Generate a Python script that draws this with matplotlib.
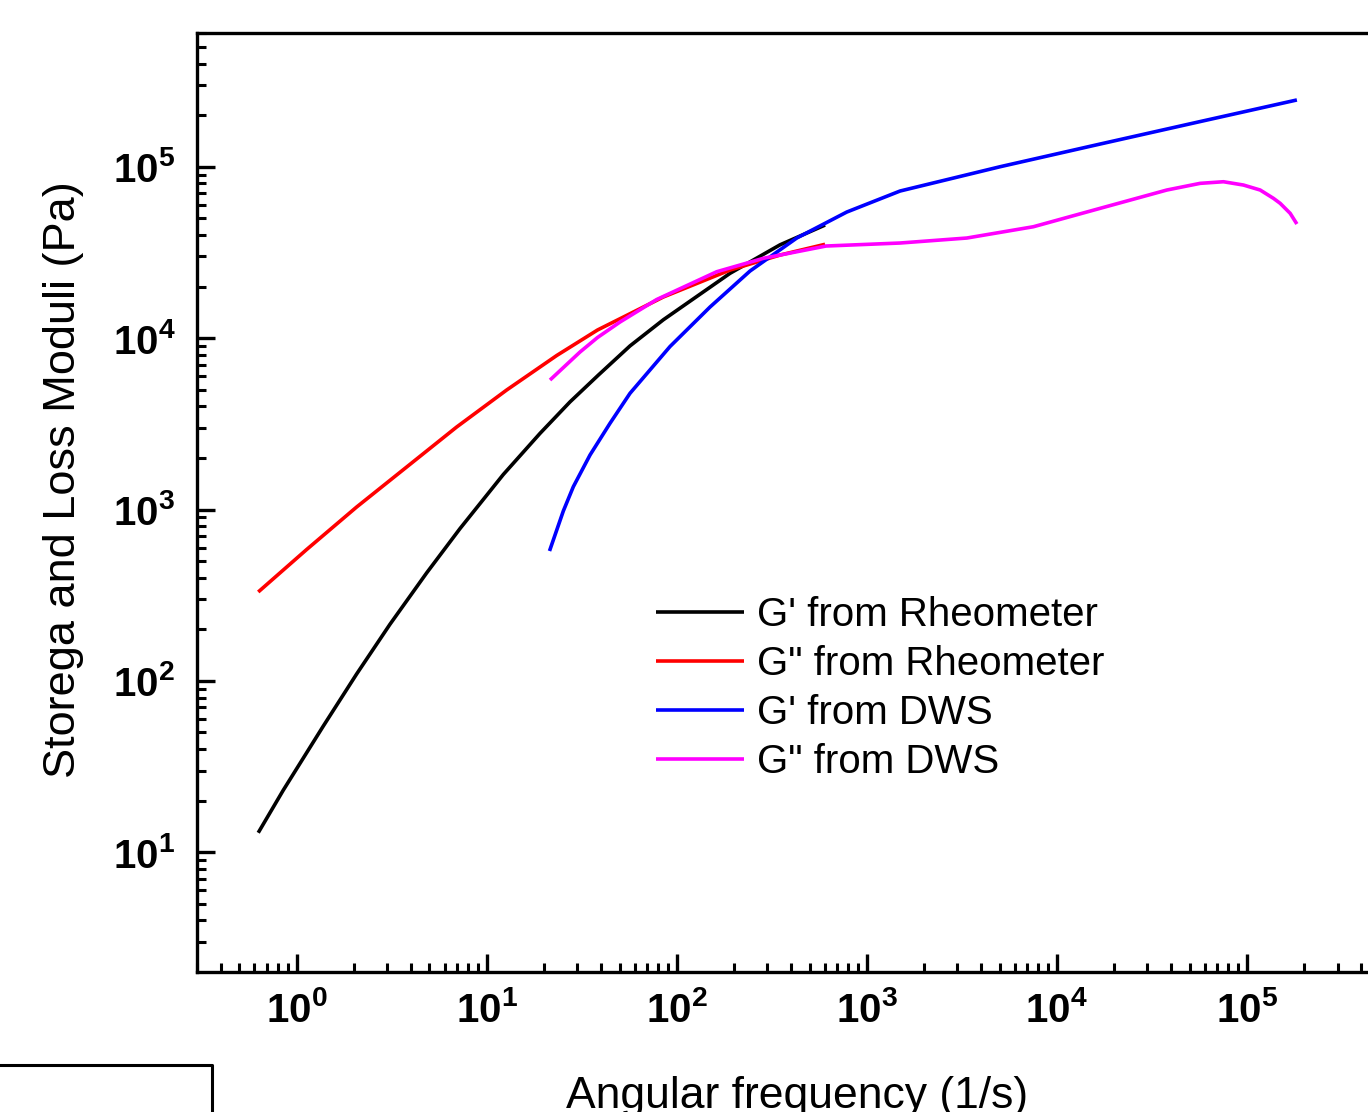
import matplotlib
matplotlib.use("Agg")
import matplotlib.pyplot as plt
from matplotlib.ticker import LogLocator, NullFormatter, FixedLocator, FixedFormatter
from matplotlib.lines import Line2D

plt.rcParams['font.family'] = ['Liberation Sans', 'DejaVu Sans']
plt.rcParams['mathtext.fontset'] = 'custom'
plt.rcParams['mathtext.rm'] = 'Liberation Sans'
plt.rcParams['mathtext.bf'] = 'Liberation Sans:bold'

# ---------------- data ----------------
w_g1_rheo = [0.628, 0.850, 1.380, 2.069, 3.098, 4.833, 7.236, 12.23, 19.08, 27.44, 38.68, 56.78,
             85.0, 190.8, 349.8, 603.3]
g1_rheo = [13.0, 23.0, 54.4, 109.7, 213.9, 426.7, 773.5, 1600, 2780, 4244, 6083, 9006,
           12790, 23887, 35030, 45690]

w_g2_rheo = [0.628, 1.129, 2.069, 3.793, 6.95, 12.74, 23.36, 38.3, 85.0, 190.8, 349.8, 603.3]
g2_rheo = [330.2, 584.1, 1034, 1770, 3029, 4980, 7916, 11151, 17373, 24961, 30530, 35270]

w_g1_dws = [21.41, 25.31, 28.57, 34.98, 44.56, 56.78, 92.2, 149.7, 243.1, 428.1, 784.9, 1497,
            5029, 16899, 56790, 183340]
g1_dws = [572.6, 979.9, 1358, 2080, 3184, 4764, 8933, 15188, 24638, 38371, 54410, 72160,
          100000, 135650, 183480, 245260]

w_g2_dws = [21.54, 30.98, 38.30, 50.30, 78.47, 162.4, 285.6, 610.7, 1497, 3360, 7529, 16899,
            37920, 56790, 75300, 95960, 117490, 138040, 149700, 169000, 183340]
g2_dws = [5694, 8296, 10081, 12415, 16799, 24403, 29214, 34466, 35885, 38371, 44660, 57180,
          73130, 80000, 81750, 78200, 73130, 65390, 61170, 53470, 46320]

series_labels = ["G' from Rheometer", 'G" from Rheometer', "G' from DWS", 'G" from DWS']
series_colors = ['#000000', '#ff0000', '#0000ff', '#ff00ff']

x_ticks = [1, 10, 100, 1000, 10000, 100000]
x_ticklabels = [r'$\mathbf{10^{0}}$', r'$\mathbf{10^{1}}$', r'$\mathbf{10^{2}}$',
                r'$\mathbf{10^{3}}$', r'$\mathbf{10^{4}}$', r'$\mathbf{10^{5}}$']
y_ticks = [10, 100, 1000, 10000, 100000]
y_ticklabels = [r'$\mathbf{10^{1}}$', r'$\mathbf{10^{2}}$', r'$\mathbf{10^{3}}$',
                r'$\mathbf{10^{4}}$', r'$\mathbf{10^{5}}$']

# ---------------- figure ----------------
W, H = 1368, 1112
fig = plt.figure(figsize=(W / 100, H / 100), dpi=100)
ax_left, ax_right, ax_top, ax_bot = 196.7, 1397, 33, 971.7
ax = fig.add_axes([ax_left / W, 1 - ax_bot / H, (ax_right - ax_left) / W, (ax_bot - ax_top) / H])

xs = [w_g1_rheo, w_g2_rheo, w_g1_dws, w_g2_dws]
ys = [g1_rheo, g2_rheo, g1_dws, g2_dws]
for x, y, lab, c in zip(xs, ys, series_labels, series_colors):
    ax.plot(x, y, color=c, lw=2.6, label=lab, solid_joinstyle='round', solid_capstyle='butt')

ax.set_xscale('log')
ax.set_yscale('log')
ax.set_xlim(0.298, 10 ** 5.79)
ax.set_ylim(2.01, 6.03e5)

for s in ax.spines.values():
    s.set_linewidth(2.4)

ax.xaxis.set_major_locator(FixedLocator(x_ticks))
ax.xaxis.set_major_formatter(FixedFormatter(x_ticklabels))
ax.yaxis.set_major_locator(FixedLocator(y_ticks))
ax.yaxis.set_major_formatter(FixedFormatter(y_ticklabels))
ax.xaxis.set_minor_locator(LogLocator(base=10, subs=range(2, 10), numticks=20))
ax.yaxis.set_minor_locator(LogLocator(base=10, subs=range(2, 10), numticks=20))
ax.xaxis.set_minor_formatter(NullFormatter())
ax.yaxis.set_minor_formatter(NullFormatter())

ax.tick_params(which='major', direction='in', length=13, width=2.4, labelsize=29)
ax.tick_params(which='minor', direction='in', length=6.5, width=2.2)
ax.tick_params(axis='x', which='major', pad=14)
ax.tick_params(axis='y', which='major', pad=15.5)
ax.tick_params(top=False, right=False, which='both')

# axis labels
fig.text(797 / W, 1 - 1108 / H, 'Angular frequency (1/s)', fontsize=32,
         ha='center', va='baseline')
fig.text(64 / W, 1 - 480 / H, 'Storega and Loss Moduli (Pa)', fontsize=32.5,
         rotation=90, ha='center', va='center')

# legend
leg = ax.legend(loc='center left', bbox_to_anchor=(656 / W, 1 - 688.5 / H),
                bbox_transform=fig.transFigure, frameon=False, fontsize=29,
                handlelength=2.18, handletextpad=0.32, labelspacing=0.27,
                borderpad=0, borderaxespad=0)

# partial box in the lower-left corner
fig.add_artist(Line2D([-5 / W, 212 / W, 212 / W], [1 - 1065 / H, 1 - 1065 / H, -5 / H],
                      transform=fig.transFigure, color='black', lw=2.2))

fig.savefig('out.png', dpi=100)
